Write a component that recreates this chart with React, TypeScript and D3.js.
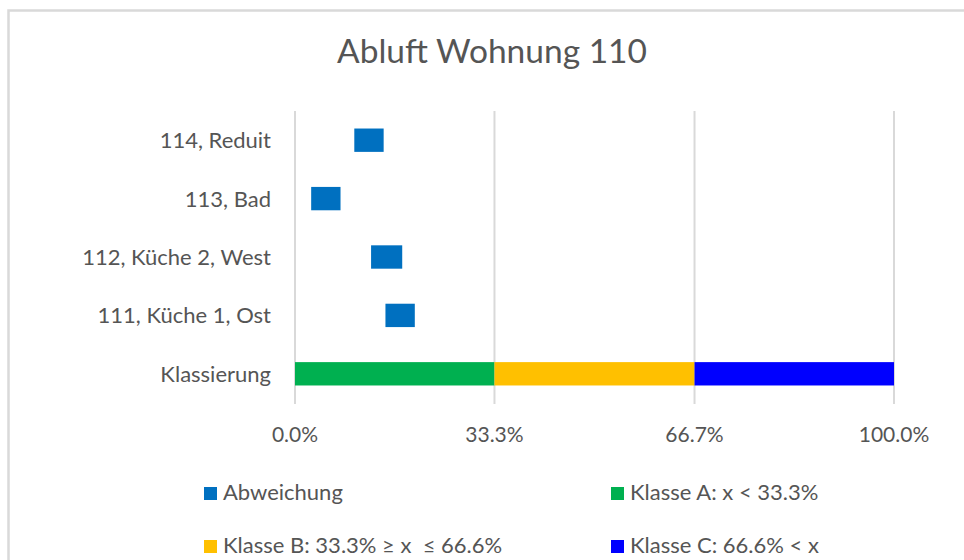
import * as d3 from "d3";

const title = "Abluft Wohnung 110";
const categories = [
  "114, Reduit",
  "113, Bad",
  "112, Küche 2, West",
  "111, Küche 1, Ost",
  "Klassierung",
];
// Abweichung: invisible offset + visible width (fractions of 1)
const abwCategories = categories.slice(0, 4);
const abwStart = [0.099, 0.027, 0.127, 0.151];
const abwWidth = [0.049, 0.049, 0.052, 0.049];
// Klassierung segments
const klassen = [
  "Klasse A: x < 33.3%",
  "Klasse B: 33.3% ≥ x  ≤ 66.6%",
  "Klasse C: 66.6% < x",
];
const klassenValues = [0.333, 0.334, 0.333];
const klassenColors = ["#00B050", "#FFC000", "#0000FF"];
const abwColor = "#0070C0";
const ticks = [0, 0.333, 0.667, 1];
const tickLabels = ["0.0%", "33.3%", "66.7%", "100.0%"];

const W = 964;
const H = 560;
const font = "Lato, 'Open Sans', sans-serif";
const textColor = "#555555";
const gridColor = "#d9d9d9";

export default function App() {
  const x = d3.scaleLinear().domain([0, 1]).range([295, 894]);
  const y = d3.scaleBand().domain(categories).range([111, 403]).padding(0);
  const barH = y.bandwidth() * 0.4;
  const barY = (c: string) => (y(c) as number) + (y.bandwidth() - barH) / 2;

  const stack = d3.cumsum(klassenValues);
  const klassSegs = klassenValues.map((v, i) => ({
    x0: stack[i] - v,
    x1: stack[i],
    color: klassenColors[i],
  }));

  const legend = [
    { label: "Abweichung", color: abwColor, x: 204, y: 492 },
    { label: klassen[0], color: klassenColors[0], x: 611, y: 492 },
    { label: klassen[1], color: klassenColors[1], x: 204, y: 545 },
    { label: klassen[2], color: klassenColors[2], x: 611, y: 545 },
  ];

  return (
    <svg
      width={W}
      height={H}
      style={{ position: "absolute", left: 0, top: 0, background: "#fff" }}
      fontFamily={font}
    >
      <rect x={0} y={0} width={W} height={H} fill="#fff" />
      {/* chart area border */}
      <rect
        x={8.5}
        y={10.5}
        width={1200}
        height={1200}
        fill="none"
        stroke={gridColor}
        strokeWidth={2.5}
      />
      <text
        x={492}
        y={63}
        textAnchor="middle"
        fontSize={33.5}
        fill={textColor}
      >
        {title}
      </text>

      {/* gridlines */}
      {ticks.map((t, i) => (
        <line
          key={i}
          x1={x(t)}
          x2={x(t)}
          y1={111}
          y2={404}
          stroke={gridColor}
          strokeWidth={2}
        />
      ))}
      {ticks.map((t, i) => (
        <text
          key={i}
          x={x(t)}
          y={442}
          textAnchor="middle"
          fontSize={21}
          fill={textColor}
        >
          {tickLabels[i]}
        </text>
      ))}

      {/* category labels */}
      {categories.map((c) => (
        <text
          key={c}
          x={271}
          y={(y(c) as number) + y.bandwidth() / 2 + 8}
          textAnchor="end"
          fontSize={22}
          fill={textColor}
        >
          {c}
        </text>
      ))}

      {/* Abweichung floating bars */}
      {abwCategories.map((c, i) => (
        <rect
          key={c}
          x={x(abwStart[i])}
          y={barY(c)}
          width={x(abwStart[i] + abwWidth[i]) - x(abwStart[i])}
          height={barH}
          fill={abwColor}
        />
      ))}

      {/* Klassierung stacked bar */}
      {klassSegs.map((s, i) => (
        <rect
          key={i}
          x={x(s.x0)}
          y={barY("Klassierung")}
          width={x(s.x1) - x(s.x0)}
          height={barH}
          fill={s.color}
        />
      ))}

      {/* legend */}
      {legend.map((l) => (
        <g key={l.label}>
          <rect x={l.x} y={l.y - 5} width={13} height={13} fill={l.color} />
          <text
            x={l.x + 19}
            y={l.y + 7.5}
            fontSize={22}
            fill={textColor}
            style={{ whiteSpace: "pre" }}
          >
            {l.label}
          </text>
        </g>
      ))}
    </svg>
  );
}
